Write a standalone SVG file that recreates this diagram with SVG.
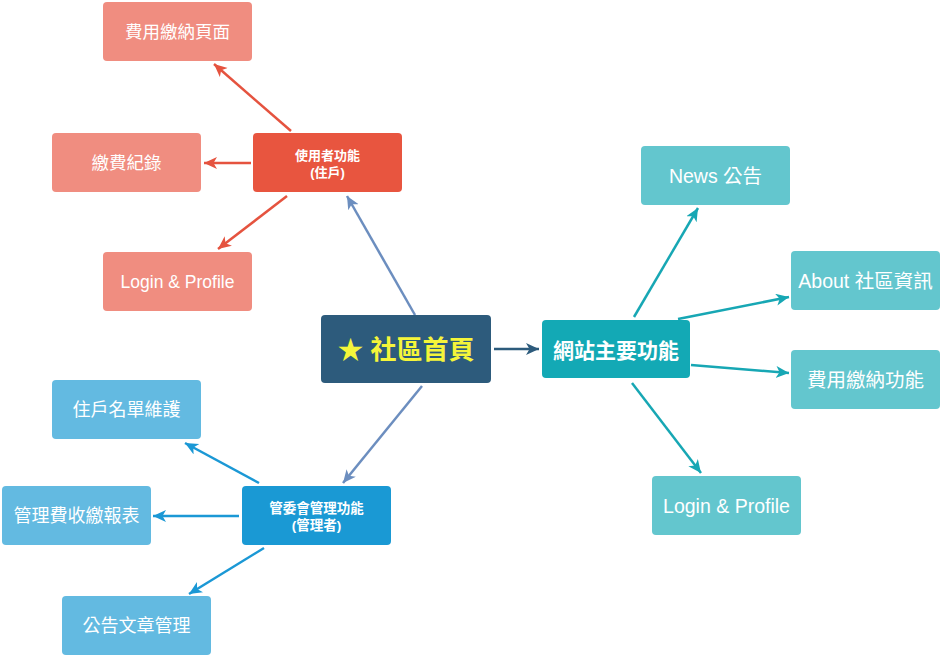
<svg xmlns="http://www.w3.org/2000/svg" width="943" height="657" viewBox="0 0 943 657">
<style>
text{font-family:"Liberation Sans","Noto Sans CJK TC",sans-serif;fill:#fff;text-anchor:middle;dominant-baseline:central}
.b{font-weight:bold}
.ln{fill:none;stroke-width:2.5}
</style>
<defs>
<marker id="mR" markerUnits="userSpaceOnUse" markerWidth="16" markerHeight="14" refX="13" refY="6" orient="auto"><path d="M0,0 L13,6 L0,12 L3.5,6 Z" fill="#E5533F"/></marker>
<marker id="mT" markerUnits="userSpaceOnUse" markerWidth="16" markerHeight="14" refX="13" refY="6" orient="auto"><path d="M0,0 L13,6 L0,12 L3.5,6 Z" fill="#17A7B4"/></marker>
<marker id="mB" markerUnits="userSpaceOnUse" markerWidth="16" markerHeight="14" refX="13" refY="6" orient="auto"><path d="M0,0 L13,6 L0,12 L3.5,6 Z" fill="#1B98D5"/></marker>
<marker id="mG" markerUnits="userSpaceOnUse" markerWidth="16" markerHeight="14" refX="13" refY="6" orient="auto"><path d="M0,0 L13,6 L0,12 L3.5,6 Z" fill="#6C8EBF"/></marker>
<marker id="mN" markerUnits="userSpaceOnUse" markerWidth="16" markerHeight="14" refX="13" refY="6" orient="auto"><path d="M0,0 L13,6 L0,12 L3.5,6 Z" fill="#2D5B7C"/></marker>
</defs>
<g id="connectors">
<path class="ln" stroke="#E5533F" marker-end="url(#mR)" d="M291,131 L214,64"/>
<path class="ln" stroke="#E5533F" marker-end="url(#mR)" d="M251,163 L204,163"/>
<path class="ln" stroke="#E5533F" marker-end="url(#mR)" d="M287,196 L218,249"/>
<path class="ln" stroke="#6C8EBF" marker-end="url(#mG)" d="M415,315 L347,196"/>
<path class="ln" stroke="#6C8EBF" marker-end="url(#mG)" d="M422,386 L343,483"/>
<path class="ln" stroke="#2D5B7C" marker-end="url(#mN)" d="M494,349 L539,349"/>
<path class="ln" stroke="#17A7B4" marker-end="url(#mT)" d="M634,317 L698,208"/>
<path class="ln" stroke="#17A7B4" marker-end="url(#mT)" d="M678,319 L789,297"/>
<path class="ln" stroke="#17A7B4" marker-end="url(#mT)" d="M691,365 L789,373"/>
<path class="ln" stroke="#17A7B4" marker-end="url(#mT)" d="M632,383 L701,473"/>
<path class="ln" stroke="#1B98D5" marker-end="url(#mB)" d="M259,483 L185,443"/>
<path class="ln" stroke="#1B98D5" marker-end="url(#mB)" d="M239,516 L153,516"/>
<path class="ln" stroke="#1B98D5" marker-end="url(#mB)" d="M264,548 L189,594"/>
</g>
<g id="n_pay_page"><rect x="103" y="2" width="149" height="59" rx="4" fill="#F08D80"/><text x="177.5" y="32" font-size="17.5">費用繳納頁面</text></g>
<g id="n_pay_record"><rect x="52" y="133" width="149" height="59" rx="4" fill="#F08D80"/><text x="126.5" y="163" font-size="17.5">繳費紀錄</text></g>
<g id="n_login_left"><rect x="103" y="252" width="149" height="59" rx="4" fill="#F08D80"/><text x="177.5" y="282" font-size="17.5">Login &amp; Profile</text></g>
<g id="n_user"><rect x="253" y="133" width="149" height="59" rx="4" fill="#E8553F"/><text class="b" x="327.5" y="155" font-size="13">使用者功能</text><text class="b" x="327.5" y="172" font-size="13">(住戶)</text></g>
<g id="n_home"><rect x="321" y="315" width="170" height="68" rx="4" fill="#2D5B7C"/><text class="b" x="406" y="350" font-size="26" style="fill:#F5F53A">★ 社區首頁</text></g>
<g id="n_main"><rect x="542" y="320" width="148" height="58" rx="4" fill="#13A9B5"/><text class="b" x="616" y="350" font-size="21">網站主要功能</text></g>
<g id="n_news"><rect x="641" y="146" width="149" height="59" rx="4" fill="#63C6CE"/><text x="715.5" y="176" font-size="19.5">News 公告</text></g>
<g id="n_about"><rect x="791" y="251" width="149" height="59" rx="4" fill="#63C6CE"/><text x="865.5" y="281" font-size="19.5">About 社區資訊</text></g>
<g id="n_payfunc"><rect x="791" y="350" width="149" height="59" rx="4" fill="#63C6CE"/><text x="865.5" y="380" font-size="19.5">費用繳納功能</text></g>
<g id="n_login_right"><rect x="652" y="476" width="149" height="59" rx="4" fill="#63C6CE"/><text x="726.5" y="506" font-size="19.5">Login &amp; Profile</text></g>
<g id="n_admin"><rect x="242" y="486" width="149" height="59" rx="4" fill="#1A99D4"/><text class="b" x="316.5" y="508" font-size="13.5">管委會管理功能</text><text class="b" x="316.5" y="525" font-size="13.5">(管理者)</text></g>
<g id="n_resident"><rect x="52" y="380" width="149" height="59" rx="4" fill="#63BAE1"/><text x="126.5" y="410" font-size="18">住戶名單維護</text></g>
<g id="n_report"><rect x="2" y="486" width="149" height="59" rx="4" fill="#63BAE1"/><text x="76.5" y="516" font-size="18">管理費收繳報表</text></g>
<g id="n_article"><rect x="62" y="596" width="149" height="59" rx="4" fill="#63BAE1"/><text x="136.5" y="626" font-size="18">公告文章管理</text></g>
</svg>
